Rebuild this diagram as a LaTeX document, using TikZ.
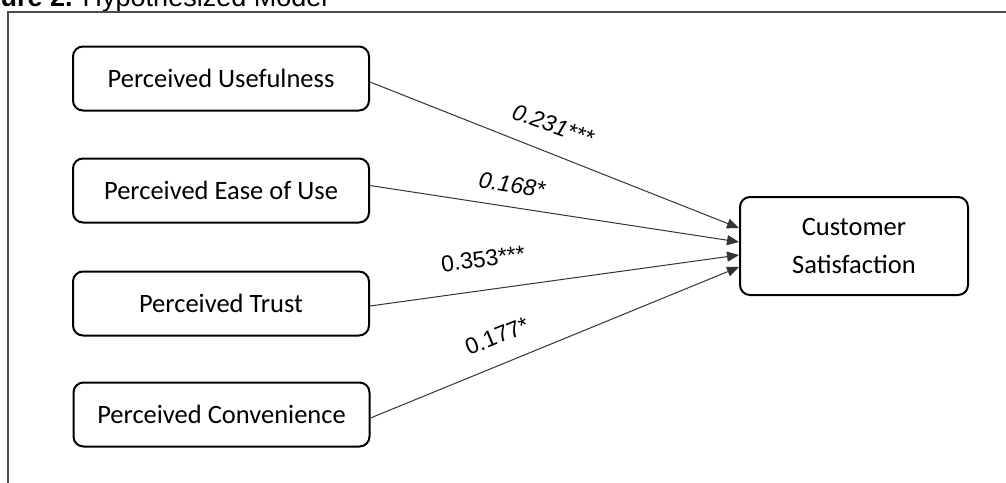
\documentclass[tikz,border=0pt]{standalone}
\usepackage{fontspec}
\setmainfont{Liberation Sans}
\newfontfamily\boxfont{Carlito}
\usetikzlibrary{calc,arrows.meta}
\begin{document}
\begin{tikzpicture}[x=1pt,y=-1pt,
  varbox/.style={draw=black,line width=2pt,rounded corners=10pt,minimum width=296pt,minimum height=64pt,inner sep=0pt,font=\boxfont\fontsize{26.5}{32}\selectfont},
  path/.style={draw=black!80,line width=1pt,-{Triangle[length=12pt,width=10pt]}},
  coef/.style={font=\fontsize{23}{27}\selectfont,inner sep=0pt},
  frame/.style={draw=black!70,line width=1.2pt}]
\useasboundingbox (0,0) rectangle (1006,482);
\clip (0,0) rectangle (1006,482);
\node[anchor=base west,inner sep=0pt,font=\fontsize{27}{32}\selectfont] (title) at (-40,6) {\textbf{Figure 2.} Hypothesized Model};
\draw[frame] (8,490) |- (1010,12);
\node[varbox] (pu) at (221,78.5) {Perceived Usefulness};
\node[varbox] (pe) at (221,190.5) {Perceived Ease of Use};
\node[varbox] (pt) at (221,303.5) {Perceived Trust};
\node[varbox] (pc) at (221.5,414.5) {Perceived Convenience};
\node[varbox,minimum width=228pt,minimum height=98pt,align=center,font=\boxfont\fontsize{26.5}{38}\selectfont] (cs) at (854,246) {Customer\\Satisfaction};
\draw[path] ($(pu.east)+(0,3.5)$) -- ($(cs.west)+(0,-18)$);
\draw[path] ($(pe.east)+(0,-5)$) -- ($(cs.west)+(0,-4)$);
\draw[path] ($(pt.east)+(0,2.5)$) -- ($(cs.west)+(0,9)$);
\draw[path] ($(pc.east)+(0,3.5)$) -- ($(cs.west)+(0,21)$);
\node[coef,rotate=-20] (l1) at (553,125) {\itshape 0.231***};
\node[coef,rotate=-8.7] (l2) at (512,185) {\itshape 0.168*};
\node[coef,rotate=7.8] (l3) at (483,259) {0.353***};
\node[coef,rotate=22] (l4) at (497,336) {0.177*};
\end{tikzpicture}
\end{document}
